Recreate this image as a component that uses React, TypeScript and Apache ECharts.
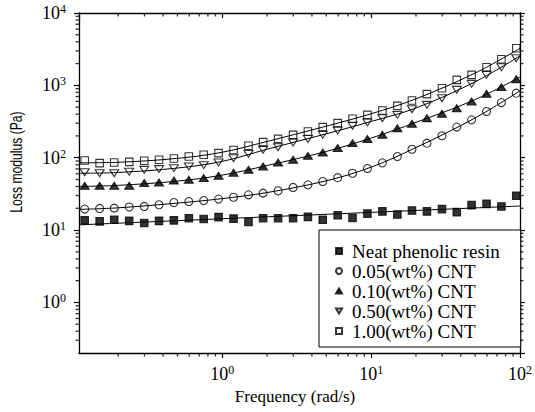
import React, { useEffect, useRef } from 'react';
import * as echarts from 'echarts';

// Frequencies (rad/s) of the measured points
const freq = [0.119, 0.15, 0.188, 0.237, 0.299, 0.376, 0.473, 0.596, 0.75, 0.944, 1.19, 1.5, 1.88, 2.37, 2.99, 3.76, 4.73, 5.96, 7.5, 9.44, 11.9, 15.0, 18.8, 23.7, 29.9, 37.6, 47.3, 59.6, 75.0, 94.4];

// Loss modulus (Pa)
const neat = [13.6, 13.2, 13.9, 13.4, 12.5, 13.4, 13.6, 14.6, 14.2, 15.1, 14.4, 12.9, 14.6, 14.6, 14.6, 15.2, 13.9, 16.0, 14.7, 16.9, 18.1, 16.4, 18.6, 18.1, 19.5, 17.7, 22.1, 23.0, 21.2, 29.8];
const cnt005 = [19.5, 19.9, 20.1, 20.8, 21.2, 22.4, 24.0, 24.8, 25.6, 26.8, 28.4, 30.7, 32.4, 34.9, 38.8, 42.2, 46.9, 53, 61, 71, 85, 104, 131, 159, 201, 265, 334, 435, 578, 780];
const cnt010 = [40.9, 40.9, 40.9, 40.9, 44.6, 45.4, 48.4, 49.5, 52.3, 56.2, 62, 68.1, 75.6, 85.9, 93.5, 106, 118, 136, 159, 181, 207, 256, 294, 352, 404, 484, 600, 765, 945, 1218];
const cnt050 = [63.2, 61.2, 61.2, 63.9, 68.0, 69.6, 71.8, 75.6, 79.0, 85.9, 98.5, 113, 128.5, 140, 162, 181, 207, 238, 276, 306, 352, 391, 469, 538, 666, 867, 1049, 1397, 1783, 2376];
const cnt100 = [91.5, 84.2, 85.9, 87.7, 90.6, 93.5, 97.5, 104, 109.7, 115.8, 128, 146, 164, 182, 207, 230, 265, 301, 345, 391, 449, 521, 617, 756, 914, 1192, 1397, 1783, 2300, 3263];

// Fitted curves
const neatFitFreq = [0.109, 100];
const neatFit = [11.8, 21.5];
const fitFreq = [0.109, 0.2, 0.5, 1, 2, 5, 10, 20, 50, 100];
const fit005 = [19.3, 20.3, 23.6, 27.2, 33.0, 48, 74, 138, 355, 840];
const fit010 = [40, 41.5, 47.5, 57.5, 78, 122, 187, 308, 636, 1300];
const fit050 = [61, 62.5, 72, 89, 131, 214, 317, 486, 1120, 2560];
const fit100 = [85, 86.5, 98, 119, 168, 273, 405, 651, 1480, 3250];

const seriesNames = ['Neat phenolic resin', '0.05(wt%) CNT', '0.10(wt%) CNT', '0.50(wt%) CNT', '1.00(wt%) CNT'];

// Axis ranges and minor tick values
const X_MIN = 0.109;
const X_MAX = 100;
const Y_MIN = 0.2;
const Y_MAX = 10000;
const xMinor = [0.2, 0.3, 0.4, 0.5, 0.6, 0.7, 0.8, 0.9, 2, 3, 4, 5, 6, 7, 8, 9, 20, 30, 40, 50, 60, 70, 80, 90];
const yMinor = [0.3, 0.4, 0.5, 0.6, 0.7, 0.8, 0.9, 2, 3, 4, 5, 6, 7, 8, 9, 20, 30, 40, 50, 60, 70, 80, 90, 200, 300, 400, 500, 600, 700, 800, 900, 2000, 3000, 4000, 5000, 6000, 7000, 8000, 9000];

// edge anchors nudged a hair inside the axis range so the tick marks are laid out
const EDGE_X_LEFT = X_MIN * 1.00001;
const EDGE_X_RIGHT = X_MAX * 0.99999;
const EDGE_Y_BOTTOM = Y_MIN * 1.00001;
const EDGE_Y_TOP = Y_MAX * 0.99999;

const SERIF = '"Liberation Serif", "Times New Roman", serif';
const SANS = '"Liberation Sans", Arial, sans-serif';

const TRI_UP = 'path://M5,0L10,8.66L0,8.66Z';
const TRI_DOWN = 'path://M0,0L10,0L5,8.66Z';

function powLabel(v: number): string {
  const e = Math.log10(v);
  const r = Math.round(e);
  if (Math.abs(e - r) > 1e-6) return '';
  return `{b|10}{s|${r}}`;
}

const labelRich = {
  b: { fontFamily: SERIF, fontSize: 18, color: '#000', lineHeight: 20 },
  s: { fontFamily: SERIF, fontSize: 12, color: '#000', verticalAlign: 'top', lineHeight: 14 },
};

const pairs = (xs: number[], ys: number[]) => xs.map((x, i) => [x, ys[i]]);

function buildOption(): any {
  const markerStyle = (filled: boolean) => ({
    color: filled ? '#000' : 'rgba(0,0,0,0)',
    borderColor: '#000',
    borderWidth: 1.1,
  });
  const scatter = (name: string, ys: number[], symbol: string, size: any, filled: boolean) => ({
    type: 'scatter',
    name,
    data: pairs(freq, ys),
    symbol,
    symbolSize: size,
    symbolKeepAspect: true,
    itemStyle: markerStyle(filled),
    z: 3,
  });
  const fitLine = (name: string, xs: number[], ys: number[]) => ({
    type: 'line',
    name,
    data: pairs(xs, ys),
    symbol: 'none',
    smooth: 0.35,
    lineStyle: { color: '#000', width: 1 },
    z: 2,
    silent: true,
  });
  // minor ticks drawn as small rect symbols placed on the axis edges through the axis scales
  const tickMarks = (name: string, data: number[][], size: number[], offset: number[]) => ({
    type: 'scatter',
    name,
    data,
    symbol: 'rect',
    symbolSize: size,
    symbolOffset: offset,
    clip: false,
    silent: true,
    itemStyle: { color: '#000', borderWidth: 0 },
    z: 10,
  });
  const axisLine = { show: true, lineStyle: { color: '#000', width: 1.3 } };
  const majorTick = (inside: boolean) => ({ show: true, inside, length: 5, lineStyle: { color: '#000', width: 1.2 } });

  return {
    animation: false,
    backgroundColor: '#fff',
    grid: { left: 79, right: 13, top: 13, bottom: 59 },
    xAxis: [
      {
        type: 'log',
        logBase: 10,
        min: X_MIN,
        max: X_MAX,
        position: 'bottom',
        axisLine,
        axisTick: majorTick(false),
        splitLine: { show: false },
        axisLabel: { margin: 11, formatter: powLabel, rich: labelRich, showMinLabel: false },
        name: 'Frequency (rad/s)',
        nameLocation: 'middle',
        nameGap: 34,
        nameTextStyle: { fontFamily: SERIF, fontSize: 17, color: '#000', padding: [0, 9, 0, 0] },
      },
      {
        type: 'log',
        logBase: 10,
        min: X_MIN,
        max: X_MAX,
        position: 'top',
        axisLine,
        axisTick: majorTick(true),
        splitLine: { show: false },
        axisLabel: { show: false },
      },
    ],
    yAxis: [
      {
        type: 'log',
        logBase: 10,
        min: Y_MIN,
        max: Y_MAX,
        position: 'left',
        axisLine,
        axisTick: majorTick(false),
        splitLine: { show: false },
        axisLabel: { margin: 13, formatter: powLabel, rich: labelRich, showMinLabel: false },
      },
      {
        type: 'log',
        logBase: 10,
        min: Y_MIN,
        max: Y_MAX,
        position: 'right',
        axisLine,
        axisTick: majorTick(false),
        splitLine: { show: false },
        axisLabel: { show: false },
      },
    ],
    legend: {
      data: seriesNames,
      orient: 'vertical',
      left: 319,
      top: 230,
      itemWidth: 6,
      itemHeight: 6,
      itemGap: 0,
      padding: [11, 21, 6, 16],
      borderColor: '#000',
      borderWidth: 1,
      backgroundColor: '#fff',
      selectedMode: false,
      textStyle: { fontFamily: SERIF, fontSize: 19, color: '#000', lineHeight: 20, padding: [0, 0, 0, 5] },
    },
    graphic: [
      {
        type: 'text',
        x: 16.5,
        y: 162,
        rotation: Math.PI / 2,
        scaleX: 0.76,
        style: {
          text: 'Loss modulus (Pa)',
          font: `16px ${SANS}`,
          fill: '#000',
          align: 'center',
          verticalAlign: 'middle',
        },
      },
    ],
    series: [
      fitLine('fit-neat', neatFitFreq, neatFit),
      fitLine('fit-005', fitFreq, fit005),
      fitLine('fit-010', fitFreq, fit010),
      fitLine('fit-050', fitFreq, fit050),
      fitLine('fit-100', fitFreq, fit100),
      scatter(seriesNames[0], neat, 'rect', 7.5, true),
      scatter(seriesNames[1], cnt005, 'circle', 8, false),
      scatter(seriesNames[2], cnt010, TRI_UP, [9, 8], true),
      scatter(seriesNames[3], cnt050, TRI_DOWN, [9, 8], false),
      scatter(seriesNames[4], cnt100, 'rect', 7.5, false),
      tickMarks('minor-bottom', xMinor.map((v) => [v, EDGE_Y_BOTTOM]), [1.3, 3.5], [0, 1.75]),
      tickMarks('minor-top', xMinor.map((v) => [v, EDGE_Y_TOP]), [1.3, 3.5], [0, 1.75]),
      tickMarks('minor-left', yMinor.map((v) => [EDGE_X_LEFT, v]), [3.5, 1.3], [-1.75, 0]),
      tickMarks('minor-right', yMinor.map((v) => [EDGE_X_RIGHT, v]), [3.5, 1.3], [1.75, 0]),
    ],
  };
}

export default function App() {
  const ref = useRef<HTMLDivElement>(null);
  useEffect(() => {
    if (!ref.current) return;
    const chart = echarts.init(ref.current, undefined, { renderer: 'svg' });
    chart.setOption(buildOption());
    return () => chart.dispose();
  }, []);
  return (
    <div
      ref={ref}
      style={{ position: 'absolute', left: 0, top: 0, width: 535, height: 412, background: '#fff' }}
    />
  );
}
